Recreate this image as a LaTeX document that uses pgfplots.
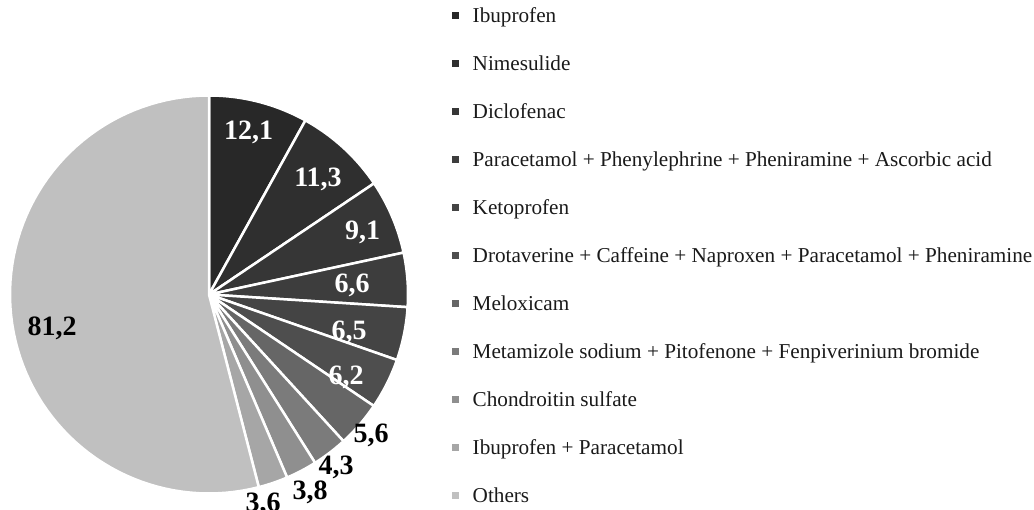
\documentclass[border=0pt]{standalone}
\usepackage{pgfplots}
\pgfplotsset{compat=1.18}
\usepackage{fontspec}
\setmainfont{Liberation Serif}
\definecolor{c1}{HTML}{282828}
\definecolor{c2}{HTML}{2F2F2F}
\definecolor{c3}{HTML}{363636}
\definecolor{c4}{HTML}{3D3D3D}
\definecolor{c5}{HTML}{444444}
\definecolor{c6}{HTML}{4E4E4E}
\definecolor{c7}{HTML}{666666}
\definecolor{c8}{HTML}{7B7B7B}
\definecolor{c9}{HTML}{8F8F8F}
\definecolor{c10}{HTML}{A6A6A6}
\definecolor{c11}{HTML}{C0C0C0}
\definecolor{txt}{HTML}{1A1A1A}
\def\total{150.3}
\def\cx{209}
\def\cy{215.5}
\def\rr{199}
\newcommand\ls{\rule[-0.25em]{0pt}{1em}}
% #1 cumulative before, #2 value, #3 colour, #4 legend text
\newcommand\slice[4]{%
  \pgfmathsetmacro\aS{90-(#1)/\total*360}%
  \pgfmathsetmacro\aE{90-(#1+#2)/\total*360}%
  \edef\tmp{\noexpand\addplot[draw=white, line width=2.5pt, line join=round, fill=#3, domain=\aE:\aS, samples=80]
    ({\cx+\rr*cos(x)},{\cy+\rr*sin(x)}) -- (\cx,\cy) -- cycle;}%
  \tmp
  \addlegendentry{\ls #4}%
}
\begin{document}
\begin{tikzpicture}
\begin{axis}[name=ax,
  width=1034pt, height=510pt, scale only axis,
  xmin=0, xmax=1034, ymin=0, ymax=510,
  hide axis, clip=false,
  legend style={at={(axis cs:452.3,505.35)}, anchor=north west, draw=none, fill=none,
    font=\fontsize{21.2}{21.2}\selectfont, row sep=26.6pt, column sep=0pt,
    inner sep=0pt, outer sep=0pt, text=txt,
    cells={anchor=west, inner sep=0pt, outer sep=0pt}},
  legend image code/.code={\path[#1, draw=none] (0pt,-3.5pt) rectangle (7pt,3.5pt);
     \path[draw=none, fill=none] (0pt,0pt) rectangle (18.4pt,0pt);},
  legend cell align=left,
]
\slice{0}{12.1}{c1}{Ibuprofen}
\slice{12.1}{11.3}{c2}{Nimesulide}
\slice{23.4}{9.1}{c3}{Diclofenac}
\slice{32.5}{6.6}{c4}{Paracetamol + Phenylephrine + Pheniramine + Ascorbic acid}
\slice{39.1}{6.5}{c5}{Ketoprofen}
\slice{45.6}{6.2}{c6}{Drotaverine + Caffeine + Naproxen + Paracetamol + Pheniramine}
\slice{51.8}{5.6}{c7}{Meloxicam}
\slice{57.4}{4.3}{c8}{Metamizole sodium + Pitofenone + Fenpiverinium bromide}
\slice{61.7}{3.8}{c9}{Chondroitin sulfate}
\slice{65.5}{3.6}{c10}{Ibuprofen + Paracetamol}
\slice{69.1}{81.2}{c11}{Others}
\begin{scope}[font=\fontsize{28}{28}\selectfont\bfseries, every node/.style={anchor=base, inner sep=0pt}]
\node[white] at (axis cs:248.5,370) {12,1};
\node[white] at (axis cs:318,323.3) {11,3};
\node[white] at (axis cs:362.5,270) {9,1};
\node[white] at (axis cs:352,217.3) {6,6};
\node[white] at (axis cs:349,170.5) {6,5};
\node[white] at (axis cs:346,125) {6,2};
\node[black] at (axis cs:371,67) {5,6};
\node[black] at (axis cs:336,35) {4,3};
\node[black] at (axis cs:310,10) {3,8};
\node[black] at (axis cs:263,-1.5) {3,6};
\node[black] at (axis cs:52,174) {81,2};
\end{scope}
\end{axis}
\pgfresetboundingbox
\path[use as bounding box] (ax.south west) rectangle (ax.north east);
\end{tikzpicture}
\end{document}
